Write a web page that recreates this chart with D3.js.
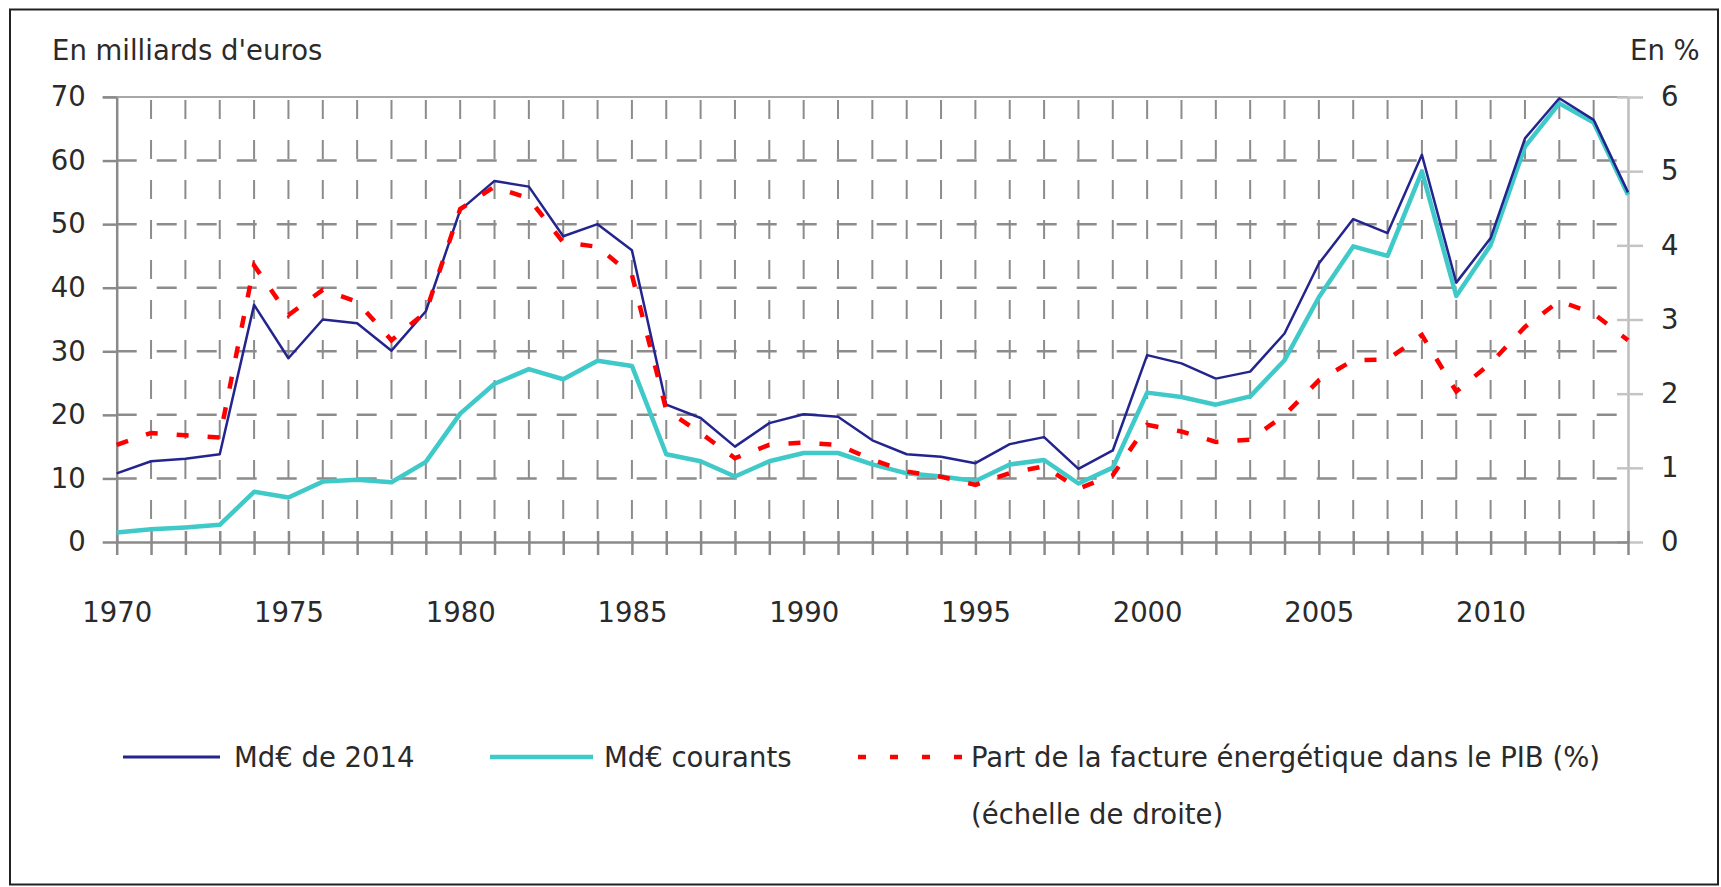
<!DOCTYPE html>
<html><head><meta charset="utf-8">
<script src="https://cdn.jsdelivr.net/npm/d3@7"></script>
<style>
body{margin:0;background:#fff}
svg text{font-family:"DejaVu Sans",sans-serif;fill:#2a2a2a;font-size:27.5px}
</style>
</head><body><svg id="c" width="1721" height="887"></svg>
<script>
// ---------- data ----------
const years = [1970,1971,1972,1973,1974,1975,1976,1977,1978,1979,
  1980,1981,1982,1983,1984,1985,1986,1987,1988,1989,
  1990,1991,1992,1993,1994,1995,1996,1997,1998,1999,
  2000,2001,2002,2003,2004,2005,2006,2007,2008,2009,
  2010,2011,2012,2013,2014];
const realBn = [10.8,12.7,13.1,13.8,37.3,28.9,35.0,34.4,30.1,36.3,
  52.2,56.8,55.9,48.1,50.0,45.9,21.6,19.5,15.0,18.7,
  20.1,19.7,16.0,13.8,13.4,12.4,15.4,16.5,11.5,14.4,
  29.4,28.1,25.7,26.8,32.8,43.8,50.8,48.6,60.9,40.8,
  47.8,63.5,69.8,66.4,55.0];
const currentBn = [1.5,2.0,2.3,2.7,7.9,7.0,9.5,9.8,9.4,12.6,
  20.2,24.9,27.2,25.6,28.5,27.7,13.8,12.7,10.3,12.7,
  14.0,14.0,12.2,10.8,10.3,9.6,12.2,12.9,9.2,11.7,
  23.5,22.8,21.6,22.9,28.6,38.5,46.5,45.0,58.3,38.7,
  46.7,62.2,69.0,66.0,54.6];
const sharePct = [1.31,1.47,1.44,1.41,3.73,3.06,3.40,3.24,2.72,3.10,
  4.49,4.79,4.63,4.04,3.98,3.60,1.78,1.47,1.13,1.31,
  1.34,1.31,1.11,0.95,0.88,0.77,0.93,1.02,0.72,0.90,
  1.58,1.49,1.35,1.38,1.71,2.18,2.45,2.46,2.79,2.03,
  2.41,2.90,3.25,3.08,2.72];
const leftTicks = [0,10,20,30,40,50,60,70];
const rightTicks = [0,1,2,3,4,5,6];
const yearLabels = [1970,1975,1980,1985,1990,1995,2000,2005,2010];
const seriesNames = ["Md€ de 2014","Md€ courants","Part de la facture énergétique dans le PIB (%)"];
const seriesNote = "(échelle de droite)";
const leftTitle = "En milliards d'euros";
const rightTitle = "En %";

// ---------- layout ----------
const svg = d3.select("#c");
const m = {left:116.7, right:1628, top:97, bottom:542};
const x = d3.scaleLinear().domain([years[0], years[years.length-1]]).range([m.left, m.right]);
const yL = d3.scaleLinear().domain([0,70]).range([m.bottom, m.top]);
const yR = d3.scaleLinear().domain([0,6]).range([m.bottom, m.top]);
const gridCol = "#8c8c8c";

// outer frame
svg.append("rect").attr("x",10).attr("y",9.5).attr("width",1708).attr("height",875)
  .attr("fill","none").attr("stroke","#222").attr("stroke-width",2);

// grid
const grid = svg.append("g");
grid.selectAll("line.v").data(years.slice(1,-1)).join("line").attr("class","v")
  .attr("x1",d=>x(d)).attr("x2",d=>x(d)).attr("y1",m.top+3).attr("y2",m.bottom-10)
  .attr("stroke",gridCol).attr("stroke-width",2).attr("stroke-dasharray","19,21");
grid.selectAll("line.h").data(leftTicks.filter(d=>d>0 && d<70)).join("line").attr("class","h")
  .attr("x1",m.left).attr("x2",m.right).attr("y1",d=>yL(d)).attr("y2",d=>yL(d))
  .attr("stroke",gridCol).attr("stroke-width",2.5).attr("stroke-dasharray","20,20");
// top border line
grid.append("line").attr("x1",m.left-14).attr("x2",m.right).attr("y1",m.top).attr("y2",m.top)
  .attr("stroke","#a8a8a8").attr("stroke-width",2);

// left axis
const gL = svg.append("g").attr("transform",`translate(${m.left},0)`)
  .call(d3.axisLeft(yL).tickValues(leftTicks).tickSize(14).tickSizeOuter(0).tickPadding(17)
    .tickFormat(d3.format("d")));
gL.select(".domain").attr("stroke","#8a8a8a").attr("stroke-width",2.5);
gL.selectAll(".tick line").attr("stroke","#8a8a8a").attr("stroke-width",2.5);
gL.selectAll(".tick text").attr("font-family","DejaVu Sans").attr("font-size",27.5).attr("fill","#2a2a2a");

// right axis
const gR = svg.append("g").attr("transform",`translate(${m.right},0)`)
  .call(d3.axisRight(yR).tickValues(rightTicks).tickSize(15).tickSizeOuter(0).tickPadding(18)
    .tickFormat(d3.format("d")));
gR.select(".domain").attr("stroke","#bdbdbd").attr("stroke-width",2.5);
gR.selectAll(".tick line").attr("x1",-11).attr("stroke","#c4c4c4").attr("stroke-width",2.5);
gR.selectAll(".tick text").attr("font-family","DejaVu Sans").attr("font-size",27.5).attr("fill","#2a2a2a");

// bottom axis
const gB = svg.append("g").attr("transform",`translate(0,${m.bottom})`)
  .call(d3.axisBottom(x).tickValues(years).tickSize(13).tickSizeOuter(0).tickPadding(47)
    .tickFormat(d => yearLabels.includes(d) ? String(d) : ""));
gB.select(".domain").attr("stroke","#8a8a8a").attr("stroke-width",2.5);
gB.selectAll(".tick line").attr("y1",-11).attr("stroke","#8a8a8a").attr("stroke-width",2.5);
gB.selectAll(".tick text").attr("font-family","DejaVu Sans").attr("font-size",27.5).attr("fill","#2a2a2a");

// titles
svg.append("text").attr("x",52).attr("y",60).text(leftTitle);
svg.append("text").attr("x",1630).attr("y",60).text(rightTitle);

// series
const colBlue = "#24248e", colCyan = "#3fc9c9", colRed = "#ff0000";
const lineL = d3.line().x((d,i)=>x(years[i])).y(d=>yL(d));
const lineR = d3.line().x((d,i)=>x(years[i])).y(d=>yR(d));
svg.append("path").datum(currentBn).attr("d",lineL).attr("fill","none")
  .attr("stroke",colCyan).attr("stroke-width",4.5).attr("stroke-linejoin","round");
svg.append("path").datum(realBn).attr("d",lineL).attr("fill","none")
  .attr("stroke",colBlue).attr("stroke-width",2.5).attr("stroke-linejoin","round");
svg.append("path").datum(sharePct).attr("d",lineR).attr("fill","none")
  .attr("stroke",colRed).attr("stroke-width",4.5).attr("stroke-dasharray","12,19");

// legend
const lg = svg.append("g");
const ly = 757;
lg.append("line").attr("x1",123).attr("x2",220).attr("y1",ly).attr("y2",ly).attr("stroke",colBlue).attr("stroke-width",3);
lg.append("text").attr("x",234).attr("y",ly+10).text(seriesNames[0]);
lg.append("line").attr("x1",490).attr("x2",593).attr("y1",ly).attr("y2",ly).attr("stroke",colCyan).attr("stroke-width",4.5);
lg.append("text").attr("x",604).attr("y",ly+10).text(seriesNames[1]);
lg.append("line").attr("x1",858).attr("x2",962).attr("y1",ly).attr("y2",ly).attr("stroke",colRed).attr("stroke-width",4.5).attr("stroke-dasharray","8,24");
lg.append("text").attr("x",971).attr("y",ly+10).text(seriesNames[2]);
lg.append("text").attr("x",971).attr("y",ly+67).text(seriesNote);
</script>
</body></html>
